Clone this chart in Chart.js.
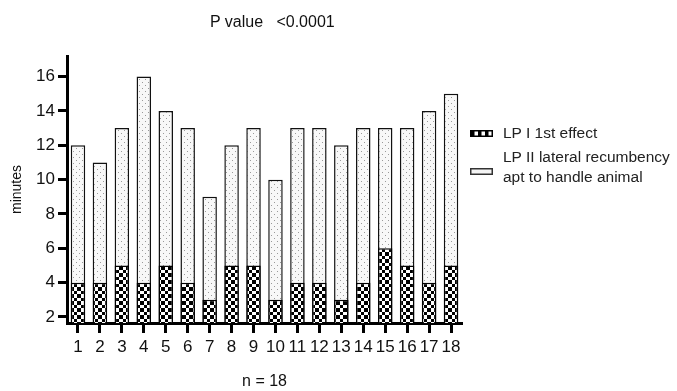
<!DOCTYPE html>
<html>
<head>
<meta charset="utf-8">
<script src="https://cdn.jsdelivr.net/npm/chart.js@4.4.0/dist/chart.umd.min.js"></script>
<style>
  body { margin: 0; background: #fff; font-family: "Liberation Sans", Arial, sans-serif; }
  #wrap { position: relative; width: 677px; height: 391px; }
  #title { position: absolute; left: 210px; top: 12px; font-size: 16px; line-height: 20px; white-space: pre; color: #111; }
  .leg { position: absolute; left: 470px; font-size: 15.5px; color: #222; line-height: 20px; }
  .leg canvas { position: absolute; left: 0; }
  .leg span { position: absolute; left: 33px; white-space: nowrap; }
</style>
</head>
<body>
<div id="wrap">
  <canvas id="chart" width="677" height="391"></canvas>
  <div id="title">P value   &lt;0.0001</div>
  <div class="leg" style="top:123px"><canvas id="sw1" width="23" height="7" style="top:7px"></canvas><span>LP I 1st effect</span></div>
  <div class="leg" style="top:147px"><canvas id="sw2" width="23" height="7" style="top:21px"></canvas><span>LP II lateral recumbency<br>apt to handle animal</span></div>
</div>
<script>
const categories = ['1', '2', '3', '4', '5', '6', '7', '8', '9', '10', '11', '12', '13', '14', '15', '16', '17', '18']
// LP I 1st effect (minutes)
const lp1Values = [4, 4, 5, 4, 5, 4, 3, 5, 5, 3, 4, 4, 3, 4, 6, 5, 4, 5]
// LP II lateral recumbency apt to handle animal (minutes)
const lp2Values = [12, 11, 13, 16, 14, 13, 9, 12, 13, 10, 13, 13, 12, 13, 13, 13, 14, 15]
const yTicks = [2, 4, 6, 8, 10, 12, 14, 16]

// checkered fill
function checkerPattern(ctx) {
  const c = document.createElement('canvas')
  c.width = 7; c.height = 7
  const g = c.getContext('2d')
  g.fillStyle = '#fff'
  g.fillRect(0, 0, 7, 7)
  g.fillStyle = '#000'
  g.fillRect(0, 0, 4, 4)
  g.fillRect(4, 4, 3, 3)
  return ctx.createPattern(c, 'repeat')
}

// light dotted fill
function dotPattern(ctx) {
  const c = document.createElement('canvas')
  c.width = 6; c.height = 6
  const g = c.getContext('2d')
  g.fillStyle = '#f8f8f8'
  g.fillRect(0, 0, 6, 6)
  g.fillStyle = '#9a9a9a'
  g.fillRect(1, 1, 1, 1)
  g.fillRect(4, 4, 1, 1)
  return ctx.createPattern(c, 'repeat')
}

const canvas = document.getElementById('chart')
const ctx = canvas.getContext('2d')

// legend swatches
const s1 = document.getElementById('sw1').getContext('2d')
s1.fillStyle = '#fff'; s1.fillRect(0, 0, 23, 7)
s1.fillStyle = '#000'
for (let i = 0; i < 6; i++) { if (i % 2 === 0) s1.fillRect(1 + i * 3.5, 1, 3.5, 5) }
s1.strokeStyle = '#000'; s1.lineWidth = 1.5; s1.strokeRect(0.75, 0.75, 21.5, 5.5)
const s2 = document.getElementById('sw2').getContext('2d')
s2.fillStyle = '#f4f4f4'; s2.fillRect(0, 0, 23, 7)
s2.strokeStyle = '#333'; s2.lineWidth = 1.5; s2.strokeRect(0.75, 0.75, 21.5, 5.5)

new Chart(ctx, {
  type: 'bar',
  data: {
    labels: categories,
    datasets: [
      {
        label: 'LP I 1st effect',
        data: lp1Values,
        backgroundColor: checkerPattern(ctx),
        borderColor: '#000',
        borderWidth: 1.5
      },
      {
        label: 'LP II lateral recumbency apt to handle animal',
        data: lp2Values,
        backgroundColor: dotPattern(ctx),
        borderColor: '#111',
        borderWidth: 1.5
      }
    ]
  },
  options: {
    responsive: false,
    animation: false,
    barPercentage: 0.66,
    categoryPercentage: 1,
    layout: { padding: { top: 56, right: 215, left: 0, bottom: 0 } },
    plugins: {
      legend: { display: false },
      tooltip: { enabled: false }
    },
    scales: {
      x: {
        stacked: true,
        offset: true,
        grid: { drawOnChartArea: false, offset: false, tickLength: 10, tickWidth: 3, color: '#000', tickColor: '#000' },
        border: { color: '#000', width: 3 },
        ticks: { color: '#111', font: { family: 'Liberation Sans', size: 17 }, padding: 4, maxRotation: 0, autoSkip: false },
        title: { display: true, text: 'n = 18', color: '#111', font: { family: 'Liberation Sans', size: 16 }, padding: { top: -1, bottom: 0 } },
        afterFit: s => { s.height = 68 }
      },
      y: {
        stacked: false,
        min: 1.65,
        max: 17.2,
        afterBuildTicks: s => { s.ticks = yTicks.map(v => ({ value: v })) },
        grid: { drawOnChartArea: false, tickLength: 9, tickWidth: 3, color: '#000', tickColor: '#000' },
        border: { color: '#000', width: 3 },
        ticks: { color: '#111', font: { family: 'Liberation Sans', size: 17 }, padding: 3 },
        title: { display: true, text: 'minutes', color: '#111', font: { family: 'Liberation Sans', size: 14 }, padding: { top: 9, bottom: 0 } },
        afterFit: s => { s.width = 67 }
      }
    }
  }
})
</script>
</body>
</html>
